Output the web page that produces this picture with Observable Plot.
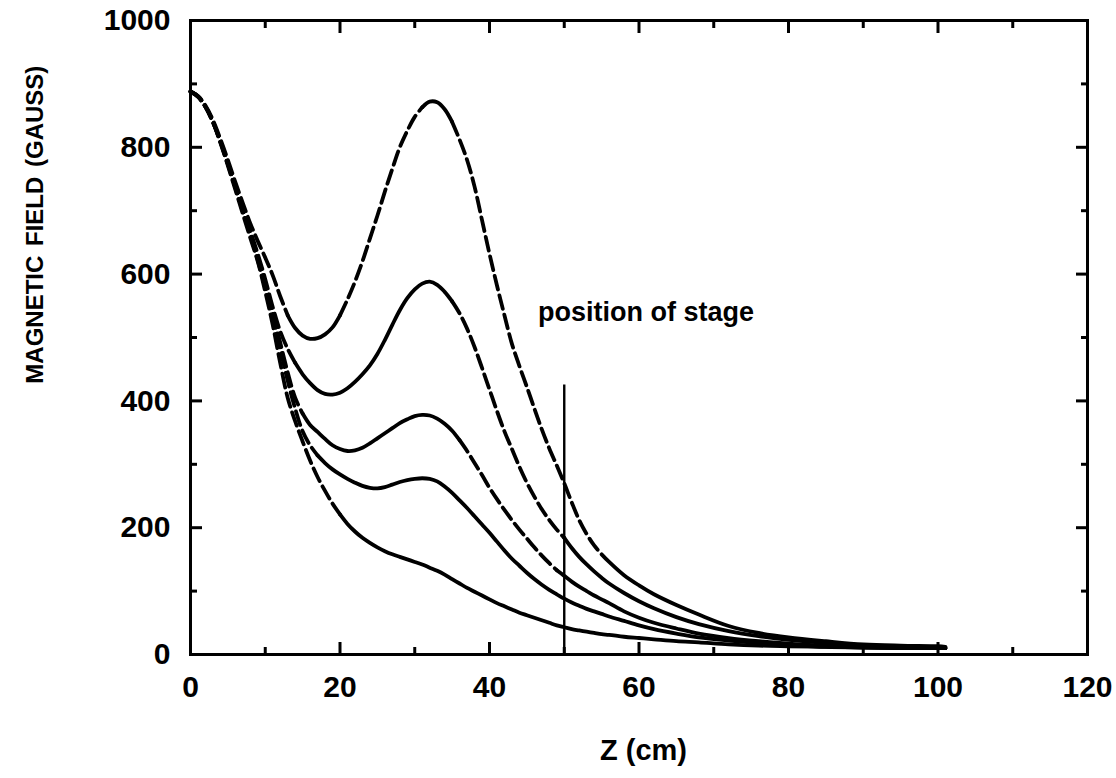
<!DOCTYPE html>
<html>
<head>
<meta charset="utf-8">
<script src="https://cdn.jsdelivr.net/npm/d3@7"></script>
<script src="https://cdn.jsdelivr.net/npm/@observablehq/plot@0.6"></script>
<style>
  body { margin: 0; background: #fff; }
  #chart svg { display: block; }
</style>
</head>
<body>
<div id="chart"></div>
<script>
// Axial position along the system (cm)
const zCm = [
  0, 1, 2, 3, 4, 5, 6, 7, 8, 9, 10, 11, 12, 13, 14, 15, 16, 17, 18, 19,
  20, 21, 22, 23, 24, 25, 26, 27, 28, 29, 30, 31, 32, 33, 34, 35, 36, 37, 38, 39,
  40, 41, 42, 43, 44, 45, 46, 47, 48, 49, 50, 51, 52, 53, 54, 55, 56,
  58, 60, 62, 65, 68, 72, 76, 80, 85, 90, 95, 100, 101
];

// Field profiles (gauss), strongest second peak first
const fieldA = [
  888, 881, 866, 843, 813, 780, 745, 712, 680, 652, 626, 598, 565, 535, 515, 503, 498, 499, 505, 516,
  535, 560, 588, 620, 656, 692, 730, 766, 800, 826, 848, 863, 872, 871, 860, 840, 812, 780, 738, 685,
  632, 582, 535, 490, 455, 422, 388, 355, 325, 298, 270, 240, 212, 190, 172, 158, 146,
  125, 109, 95, 78, 63, 45, 34, 27, 21, 16, 14, 13, 12
];
const fieldB = [
  888, 880, 864, 840, 810, 775, 738, 702, 668, 632, 592, 548, 510, 482, 460, 442, 428, 417, 411, 410,
  413, 420, 430, 442, 456, 474, 496, 520, 543, 562, 576, 585, 588, 583, 572, 557, 538, 514, 485, 452,
  418, 384, 352, 324, 296, 271, 249, 229, 212, 197, 184, 168, 154, 142, 131, 121, 112,
  97, 84, 73, 59, 48, 37, 29, 23, 18, 14, 12, 11, 11
];
const fieldC = [
  888, 880, 864, 840, 809, 774, 737, 700, 664, 626, 584, 540, 492, 445, 405, 380, 362, 351, 340, 330,
  324, 321, 322, 326, 333, 341, 349, 357, 365, 371, 376, 378, 377, 372, 364, 353, 338, 321, 302, 283,
  263, 245, 228, 212, 197, 183, 169, 156, 144, 133, 124, 115, 107, 100, 93, 87, 81,
  68, 58, 50, 41, 33, 26, 21, 17, 14, 12, 11, 10, 10
];
const fieldD = [
  888, 880, 864, 840, 808, 773, 736, 699, 662, 622, 578, 532, 482, 432, 388, 352, 330, 314, 302, 292,
  284, 277, 271, 266, 263, 262, 264, 268, 272, 275, 277, 278, 277, 273, 265, 255, 243, 231, 218, 205,
  192, 178, 164, 151, 140, 129, 119, 110, 102, 95, 88, 82, 77, 72, 68, 64, 60,
  53, 46, 40, 33, 27, 22, 18, 15, 12, 11, 10, 10, 10
];
const fieldE = [
  888, 880, 864, 840, 807, 771, 733, 695, 657, 620, 572, 520, 460, 405, 368, 336, 306, 280, 258, 238,
  221, 206, 194, 184, 176, 169, 163, 158, 154, 150, 146, 142, 137, 132, 126, 119, 112, 105, 99, 93,
  87, 81, 76, 71, 66, 62, 58, 54, 50, 46, 43, 40, 38, 36, 34, 32, 31,
  28, 26, 24, 21, 19, 16, 14, 13, 12, 11, 10, 10, 10
];

// Positions (cm) where each trace switches between dashed and solid (dashed first)
const breaksA = [13, 20, 31, 35, 55];
const breaksB = [14, 35, 50];
const breaksC = [15, 36, 49];
const breaksD = [17];
const breaksE = [20];

// Stage marker and its note
const stageZ = [50];
const stageTop = 425;
const stageLabel = [{z: 46.5, b: 540, text: "position of stage"}];

// Axis ticks and titles
const xMajor = [0, 20, 40, 60, 80, 100, 120];
const xMinor = [10, 30, 50, 70, 90, 110];
const yMajor = [0, 200, 400, 600, 800, 1000];
const yMinor = [100, 300, 500, 700, 900];
const xTitle = "Z (cm)";
const yTitle = "MAGNETIC FIELD (GAUSS)";

const traces = [
  {name: "A", field: fieldA, breaks: breaksA},
  {name: "B", field: fieldB, breaks: breaksB},
  {name: "C", field: fieldC, breaks: breaksC},
  {name: "D", field: fieldD, breaks: breaksD},
  {name: "E", field: fieldE, breaks: breaksE}
];

// Split every trace into runs that share their end points
const rows = [];
for (const t of traces) {
  const edges = [-Infinity, ...t.breaks, Infinity];
  for (let s = 0; s < edges.length - 1; s++) {
    zCm.forEach((z, i) => {
      if (z >= edges[s] && z <= edges[s + 1]) {
        rows.push({z, b: t.field[i], key: t.name + s, dashed: s % 2 === 0});
      }
    });
  }
}

const lineOpts = {x: "z", y: "b", z: "key", stroke: "#000", strokeWidth: 3.8, curve: "catmull-rom"};
const blank = () => "";
const plain = d => String(d);

const chart = Plot.plot({
  width: 1116,
  height: 778,
  marginLeft: 190,
  marginRight: 29,
  marginTop: 20,
  marginBottom: 124,
  style: {fontFamily: "'Liberation Sans', Arial, Helvetica, sans-serif", fontWeight: "bold", fontSize: "30px", color: "#000", background: "#fff"},
  x: {domain: [0, 120], label: null},
  y: {domain: [0, 1000], label: null},
  marks: [
    Plot.line(rows.filter(d => d.dashed), {...lineOpts, strokeDasharray: "14,6"}),
    Plot.line(rows.filter(d => !d.dashed), lineOpts),
    Plot.ruleX(stageZ, {x: d => d, y1: 0, y2: stageTop, strokeWidth: 2.4}),
    Plot.text(stageLabel, {x: "z", y: "b", text: "text", textAnchor: "start", fontSize: 27, fontWeight: "bold"}),

    // labelled axes
    Plot.axisX(xMajor, {anchor: "bottom", tickSize: 0, tickPadding: 21, tickFormat: plain, label: null, fontSize: 30}),
    Plot.axisY(yMajor, {anchor: "left", tickSize: 0, tickPadding: 20, tickFormat: plain, label: null, fontSize: 30}),

    // inward ticks on all four sides
    Plot.axisX(xMajor, {anchor: "bottom", tickSize: -12, tickFormat: blank, label: null, strokeWidth: 3}),
    Plot.axisX(xMinor, {anchor: "bottom", tickSize: -7, tickFormat: blank, label: null, strokeWidth: 3}),
    Plot.axisX(xMajor, {anchor: "top", tickSize: -12, tickFormat: blank, label: null, strokeWidth: 3}),
    Plot.axisX(xMinor, {anchor: "top", tickSize: -7, tickFormat: blank, label: null, strokeWidth: 3}),
    Plot.axisY(yMajor, {anchor: "left", tickSize: -12, tickFormat: blank, label: null, strokeWidth: 3}),
    Plot.axisY(yMinor, {anchor: "left", tickSize: -7, tickFormat: blank, label: null, strokeWidth: 3}),
    Plot.axisY(yMajor, {anchor: "right", tickSize: -12, tickFormat: blank, label: null, strokeWidth: 3}),
    Plot.axisY(yMinor, {anchor: "right", tickSize: -7, tickFormat: blank, label: null, strokeWidth: 3}),

    Plot.frame({stroke: "#000", strokeWidth: 3}),

    // axis titles, placed in the left and bottom margins
    Plot.text([xTitle], {x: 60.6, y: -152, lineAnchor: "middle", fontSize: 29, fontWeight: "bold", clip: false}),
    Plot.text([yTitle], {x: -20.8, y: 678, rotate: -90, lineAnchor: "middle", fontSize: 24, fontWeight: "bold", clip: false})
  ]
});

for (const t of chart.querySelectorAll("text")) {
  if (t.textContent.startsWith("MAGNETIC")) t.style.wordSpacing = "3px";
}

document.getElementById("chart").append(chart);
</script>
</body>
</html>
